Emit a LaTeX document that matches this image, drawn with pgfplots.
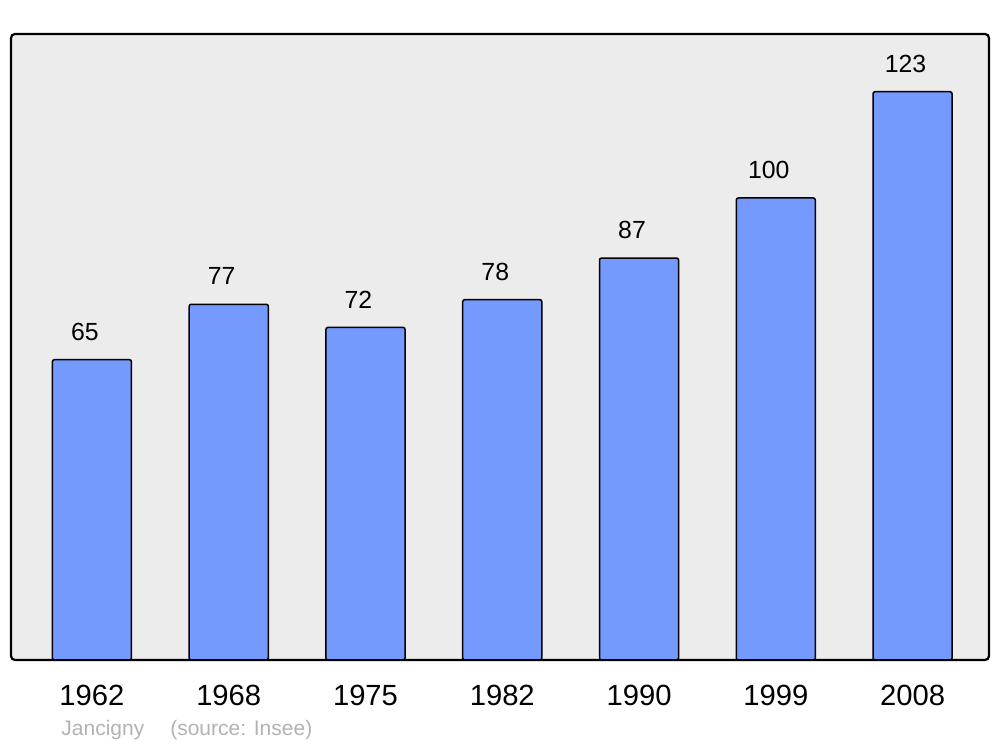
\documentclass[border=0pt]{standalone}
\usepackage{fontspec}
\setmainfont{Liberation Sans}
\usepackage{pgfplots}
\pgfplotsset{compat=1.18}
\definecolor{bgc}{RGB}{236,236,236}
\definecolor{barc}{RGB}{116,153,255}
\definecolor{srcc}{RGB}{178,178,178}
\begin{document}
\begin{tikzpicture}
\useasboundingbox (0,0) rectangle (500pt,373.5pt);
\begin{axis}[
  at={(5.5pt,43.5pt)}, anchor=south west,
  scale only axis, width=489pt, height=313pt,
  xmin=-0.592, xmax=6.559, ymin=0, ymax=135.5,
  /pgf/number format/assume math mode=true,
  axis background/.style={fill=bgc, draw=black, line width=1.1pt, rounded corners=2pt},
  axis line style={draw=none},
  xtick=data,
  xticklabels={1962,1968,1975,1982,1990,1999,2008},
  xticklabel style={anchor=center, yshift=-17.5pt, font=\fontsize{14.6}{14.6}\selectfont},
  ytick=\empty,
  major tick length=0pt,
  ybar, bar width=0.578, bar shift=0pt,
  nodes near coords,
  nodes near coords style={anchor=center, yshift=14pt, xshift=-3.5pt, font=\fontsize{12.4}{12.4}\selectfont, inner sep=0pt},
]
\addplot[fill=barc, draw=black, line width=0.75pt, rounded corners=1pt] coordinates {
(0,65) (1,77) (2,72) (3,78) (4,87) (5,100) (6,123)};
\end{axis}
\node[anchor=west, inner sep=0pt, text=srcc, font=\fontsize{10.5}{10.5}\selectfont] at (30.5pt,8.5pt) {Jancigny\hspace{13pt}(source: Insee)};
\end{tikzpicture}
\end{document}
